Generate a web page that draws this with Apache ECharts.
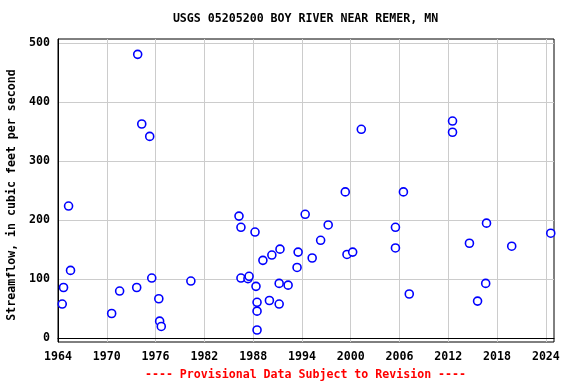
<!DOCTYPE html>
<html>
<head>
<meta charset="utf-8">
<script src="https://cdn.jsdelivr.net/npm/echarts@6/dist/echarts.min.js"></script>
<style>html,body{margin:0;padding:0;background:#fff}#c{width:576px;height:384px}</style>
</head>
<body>
<div id="c"></div>
<script>
const titleText = 'USGS 05205200 BOY RIVER NEAR REMER, MN';
const yAxisName = 'Streamflow, in cubic feet per second';
const noteText = '---- Provisional Data Subject to Revision ----';
const xTicks = [1964, 1970, 1976, 1982, 1988, 1994, 2000, 2006, 2012, 2018, 2024];
const yTicks = [0, 100, 200, 300, 400, 500];
const years = [1964.52, 1964.68, 1965.3, 1965.54, 1970.6, 1971.58, 1973.68, 1973.8, 1974.3, 1975.28,
  1975.53, 1976.4, 1976.5, 1976.7, 1980.34, 1986.26, 1986.5, 1986.5, 1987.36, 1987.5,
  1988.23, 1988.35, 1988.48, 1988.48, 1988.48, 1989.2, 1990.0, 1990.3, 1991.2, 1991.2,
  1991.3, 1992.3, 1993.4, 1993.53, 1994.4, 1995.26, 1996.3, 1997.23, 1999.33, 1999.54,
  2000.24, 2001.3, 2005.5, 2005.5, 2006.48, 2007.2, 2012.52, 2012.52, 2014.6, 2015.6,
  2016.6, 2016.7, 2019.8, 2024.6];
const flows = [58, 86, 224, 115, 42, 80, 86, 481, 363, 342,
  102, 67, 29, 20, 97, 207, 188, 102, 101, 105,
  180, 88, 61, 46, 14, 132, 64, 141, 58, 93,
  151, 90, 120, 146, 210, 136, 166, 192, 248, 142,
  146, 354, 188, 153, 248, 75, 368, 349, 161, 63,
  93, 195, 156, 178];

const points = years.map((y, i) => [y, flows[i]]);
const font = 'DejaVu Sans Mono';
const chart = echarts.init(document.getElementById('c'), null, {renderer: 'canvas'});
chart.setOption({
  backgroundColor: '#fff',
  animation: false,
  grid: {left: 58, right: 22, top: 39, bottom: 42, show: true, borderColor: '#000', borderWidth: 1, backgroundColor: 'transparent'},
  xAxis: {
    type: 'value', min: 1964, max: 2025,
    axisLine: {show: true, lineStyle: {color: '#000', width: 1}},
    axisTick: {show: false, customValues: xTicks},
    splitLine: {show: true, lineStyle: {color: '#cccccc', width: 1}},
    axisLabel: {customValues: xTicks, formatter: v => String(v), color: '#000', fontFamily: font, fontWeight: 'bold', fontSize: 11.6, margin: 9}
  },
  yAxis: {
    type: 'value', min: -6.3, max: 507,
    axisLine: {show: true, lineStyle: {color: '#000', width: 1}},
    axisTick: {show: false, customValues: yTicks},
    splitLine: {show: true, lineStyle: {color: '#cccccc', width: 1}},
    axisLabel: {customValues: yTicks, formatter: v => String(v), color: '#000', fontFamily: font, fontWeight: 'bold', fontSize: 11.6, margin: 8}
  },
  series: [{
    type: 'scatter',
    data: points,
    symbol: 'circle',
    symbolSize: 8,
    itemStyle: {color: '#fff', borderColor: '#0000ff', borderWidth: 1.6, opacity: 1},
    emphasis: {disabled: true}
  }],
  graphic: [
    {type: 'text', x: 305.5, y: 19, style: {text: titleText, fill: '#000', font: 'bold 11.6px "DejaVu Sans Mono"', align: 'center', verticalAlign: 'middle'}},
    {type: 'text', x: 12, y: 195, rotation: Math.PI / 2, style: {text: yAxisName, fill: '#000', font: 'bold 11.6px "DejaVu Sans Mono"', align: 'center', verticalAlign: 'middle'}},
    {type: 'text', x: 305.5, y: 375, style: {text: noteText, fill: '#ff0000', font: 'bold 11.6px "DejaVu Sans Mono"', align: 'center', verticalAlign: 'middle'}}
  ]
});
</script>
</body>
</html>
